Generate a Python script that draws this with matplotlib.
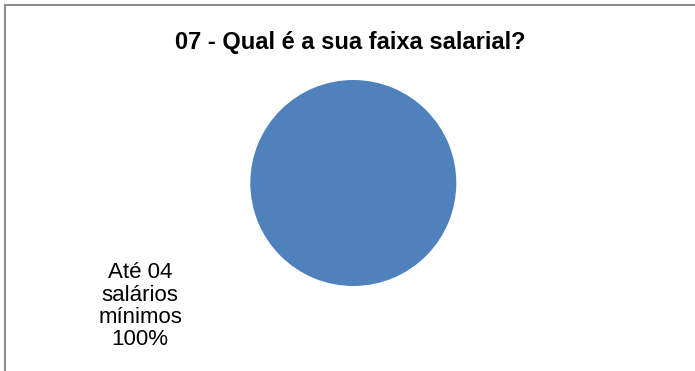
import matplotlib.pyplot as plt
from matplotlib.patches import Rectangle

plt.rcParams['font.family'] = ['Liberation Sans', 'DejaVu Sans']

# data
title = '07 - Qual é a sua faixa salarial?'
categories = ['Até 04\nsalários\nmínimos']
values = [100]
colors = ['#4f81bd']

W, H = 695, 371
fig = plt.figure(figsize=(W / 100, H / 100), dpi=100)

# outer chart border (cut off on the right and bottom, like the original)
fig.patches.append(Rectangle((4.5 / W, -0.05), 1.1, 1 - 4.5 / H + 0.05,
                             transform=fig.transFigure, fill=False,
                             edgecolor='#8c8c8c', linewidth=1.5))

fig.text(350.5 / W, 1 - 42 / H, title, ha='center', va='center',
         fontsize=17, fontweight='bold')

# pie axes: centre (353, 183), radius ~103 px
r = 103
ax = fig.add_axes([(353.3 - r) / W, (H - 183 - r) / H, 2 * r / W, 2 * r / H])
labels = ['%s\n%d%%' % (c, v) for c, v in zip(categories, values)]
ax.pie(values, labels=labels, colors=colors, startangle=30,
       labeldistance=2.39, radius=1,
       wedgeprops={'linewidth': 0},
       textprops={'fontsize': 16, 'ha': 'center', 'va': 'center',
                  'multialignment': 'center', 'linespacing': 1.07})
ax.set_xlim(-1, 1)
ax.set_ylim(-1, 1)
ax.set_aspect('equal')

fig.savefig('out.png', dpi=100)
